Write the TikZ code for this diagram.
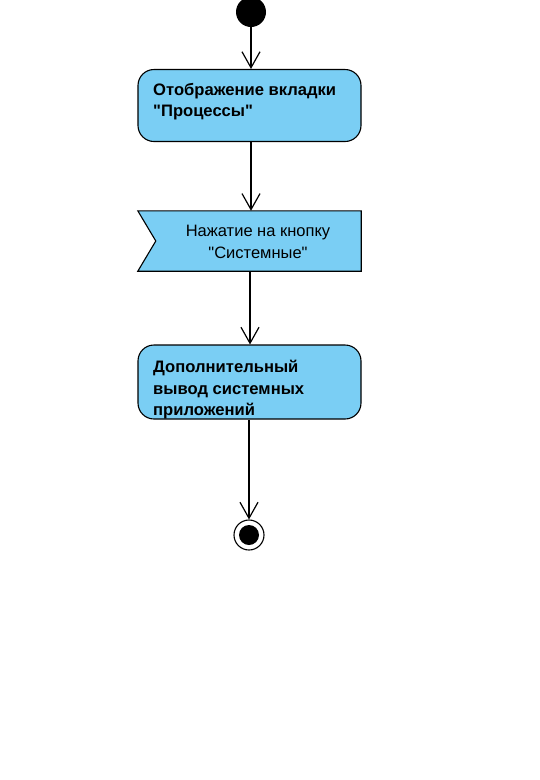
\documentclass[tikz,border=0pt]{standalone}
\usepackage{fontspec}
\setmainfont{Liberation Sans}
\usetikzlibrary{arrows.meta,calc}
\definecolor{actfill}{HTML}{7ACEF4}
\tikzset{
  actbox/.style={draw=black, line width=1.1pt, fill=actfill, rounded corners=16pt, minimum width=223pt, minimum height=72pt, inner sep=0pt},
  acttext/.style={anchor=north west, align=left, inner sep=0pt, font=\fontsize{16.6}{21.5}\selectfont\bfseries},
  sigtext/.style={align=center, inner sep=0pt, font=\fontsize{16.5}{21.5}\selectfont},
  flow/.style={draw=black, line width=1.2pt, -{Straight Barb[length=16pt, width=18pt, line width=1.2pt]}},
}
\begin{document}
\begin{tikzpicture}[x=1pt, y=1pt]
\useasboundingbox (0,0) rectangle (540,-780);
% start
\node[circle, fill=black, minimum size=30pt, inner sep=0pt] (start) at (251,-12) {};
% activity 1
\node[actbox, minimum height=72pt] (a1) at (249.5,-105.5) {};
\node[acttext] (a1t) at (153,-83) {Отображение вкладки\\\textquotedbl Процессы\textquotedbl};
% signal receipt
\node[minimum width=223pt, minimum height=60pt, inner sep=0pt] (sig) at (249.5,-241) {};
\draw[line width=1.1pt, fill=actfill] (sig.north west) -- (sig.north east) -- (sig.south east) -- (sig.south west) -- ($(sig.west)+(18,0)$) -- cycle;
\node[sigtext] (sigt) at (258,-242) {Нажатие на кнопку\\\textquotedbl Системные\textquotedbl};
% activity 3
\node[actbox, minimum height=74pt] (a3) at (249.5,-382) {};
\node[acttext] (a3t) at (153,-360) {Дополнительный\\вывод системных\\приложений};
% final
\node[circle, draw=black, line width=1.1pt, fill=white, minimum size=30pt, inner sep=0pt] (fin) at (249,-535) {};
\node[circle, fill=black, minimum size=20pt, inner sep=0pt] (finc) at (fin.center) {};
% flows
\draw[flow] (start.south) -- (start.south |- a1.north);
\draw[flow] (a1.south -| 251,0) -- (sig.north -| 251,0);
\draw[flow] (sig.south -| 250,0) -- (a3.north -| 250,0);
\draw[flow] (a3.south -| fin.north) -- (fin.north);
\end{tikzpicture}
\end{document}
